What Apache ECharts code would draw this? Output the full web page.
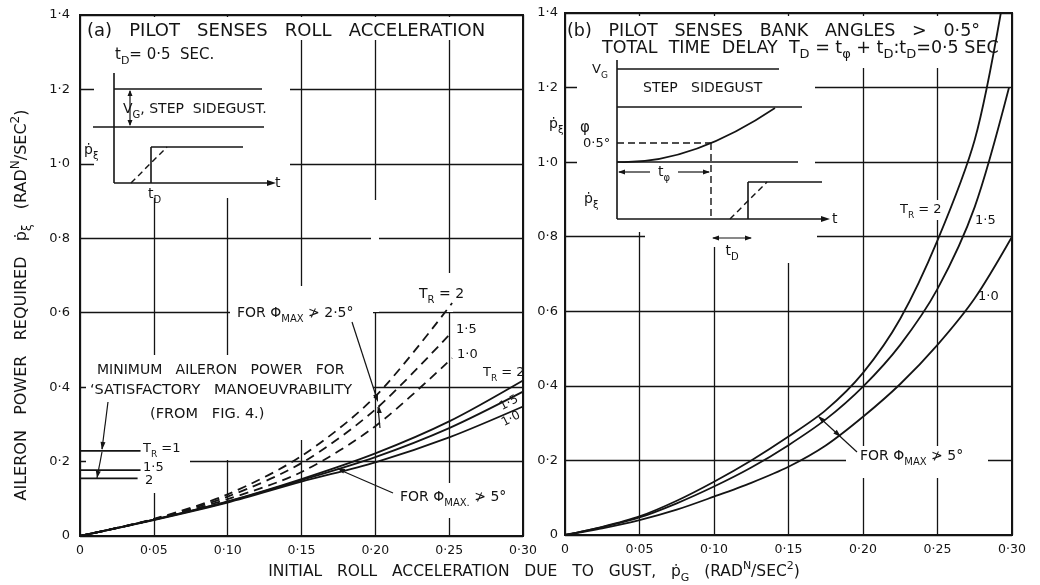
<!DOCTYPE html>
<html><head><meta charset="utf-8">
<script src="https://cdn.jsdelivr.net/npm/echarts@6/dist/echarts.min.js"></script>
<style>html,body{margin:0;padding:0;background:#fff}#c{width:1040px;height:585px}</style>
</head><body><div id="c"></div>
<script>
// ---- tick labels ----
const xTickLabels = ['0','0·05','0·10','0·15','0·20','0·25','0·30'];
const yTickLabels = ['0','0·2','0·4','0·6','0·8','1·0','1·2','1·4'];

// ---- (a) pilot senses roll acceleration ----
// solid: for phi_max not > 5 deg
const aSolidTR2  = [[0,0],[0.05,0.044],[0.10,0.093],[0.15,0.153],[0.20,0.222],[0.25,0.308],[0.30,0.418]];
const aSolidTR15 = [[0,0],[0.05,0.044],[0.10,0.092],[0.15,0.150],[0.20,0.212],[0.25,0.290],[0.30,0.388]];
const aSolidTR1  = [[0,0],[0.05,0.043],[0.10,0.090],[0.15,0.146],[0.20,0.198],[0.25,0.265],[0.30,0.348]];
// dashed: for phi_max not > 2.5 deg
const aDashTR2  = [[0,0],[0.05,0.046],[0.10,0.112],[0.15,0.215],[0.20,0.375],[0.252,0.626]];
const aDashTR15 = [[0,0],[0.05,0.045],[0.10,0.106],[0.15,0.196],[0.20,0.340],[0.252,0.549]];
const aDashTR1  = [[0,0],[0.05,0.044],[0.10,0.099],[0.15,0.172],[0.20,0.295],[0.252,0.478]];
// minimum aileron power for satisfactory manoeuvrability
const minTR1  = [[0,0.229],[0.041,0.229]];
const minTR15 = [[0,0.177],[0.041,0.177]];
const minTR2  = [[0,0.155],[0.039,0.155]];

// ---- (b) pilot senses bank angles > 0.5 deg ----
const bTR2  = [[0,0],[0.025,0.022],[0.05,0.050],[0.075,0.092],[0.10,0.143],[0.125,0.200],[0.15,0.264],[0.175,0.335],[0.20,0.435],[0.225,0.58],[0.25,0.79],[0.275,1.06],[0.2925,1.40]];
const bTR15 = [[0,0],[0.025,0.021],[0.05,0.047],[0.075,0.085],[0.10,0.130],[0.125,0.181],[0.15,0.241],[0.175,0.310],[0.20,0.398],[0.225,0.51],[0.25,0.66],[0.275,0.88],[0.298,1.20]];
const bTR1  = [[0,0],[0.025,0.018],[0.05,0.040],[0.075,0.068],[0.10,0.103],[0.125,0.140],[0.15,0.183],[0.175,0.240],[0.20,0.317],[0.225,0.405],[0.25,0.51],[0.275,0.635],[0.30,0.80]];

const INK = '#141414';
const FONT = 'DejaVu Sans';

function rich(fs){
  const L = fs + 8;
  return {
    n: {font: fs + 'px ' + FONT, fill: INK, lineHeight: L, verticalAlign: 'middle'},
    s: {font: Math.round(fs*0.72) + 'px ' + FONT, fill: INK, lineHeight: Math.round(fs*0.72)+1, verticalAlign: 'bottom'},
    u: {font: Math.round(fs*0.72) + 'px ' + FONT, fill: INK, lineHeight: Math.round(fs*0.72)+1, verticalAlign: 'top'}
  };
}
function T(x, y, text, fs, opt){
  opt = opt || {};
  return {type:'text', x:x, y:y, z:6, rotation: opt.rot || 0, silent:true,
    style:{text:text, rich:rich(fs), align: opt.align || 'left', verticalAlign:'middle'}};
}
function L(x1,y1,x2,y2,w,dash){
  return {type:'line', z:5, silent:true, shape:{x1:x1,y1:y1,x2:x2,y2:y2},
    style:{stroke:INK, lineWidth:w||1.6, lineDash: dash || null}};
}
function H(x1,y1,x2,y2,len,wid){
  len = len || 8; wid = wid || 3;
  const a = Math.atan2(y2-y1, x2-x1), c = Math.cos(a), s = Math.sin(a);
  const bx = x2 - len*c, by = y2 - len*s;
  return {type:'polygon', z:5, silent:true,
    shape:{points:[[x2,y2],[bx - wid*s, by + wid*c],[bx + wid*s, by - wid*c]]},
    style:{fill:INK}};
}
function W(x,y,w,h){
  return {type:'rect', z:1, silent:true, shape:{x:x,y:y,width:w,height:h}, style:{fill:'#fff'}};
}

const g = [
  // white areas where the drawing interrupts the grid
  W(84,17,420,23), W(94,40,196,158), W(230,286,143,154), W(86,355,144,105),
  W(86,455,72,38), W(158,455,32,13), W(371,200,8,112), W(445,273,8,39), W(396,483,118,35),
  W(567,16,434,52), W(577,60,238,172), W(645,232,110,15), W(755,232,62,31),
  W(846,446,142,32), W(896,200,52,20),

  // axis titles
  T(22, 305, '{n|AILERON   POWER   REQUIRED   ṗ}{s|ξ}{n|   (RAD}{u|N}{n|/SEC}{u|2}{n|)}', 16, {rot:Math.PI/2, align:'center'}),
  T(534, 572, '{n|INITIAL   ROLL   ACCELERATION   DUE   TO   GUST,   ṗ}{s|G}{n|   (RAD}{u|N}{n|/SEC}{u|2}{n|)}', 15.5, {align:'center'}),

  // ---- panel (a) texts ----
  T(87, 31, '{n|(a)   PILOT   SENSES   ROLL   ACCELERATION}', 18),
  T(115, 55, '{n|t}{s|D}{n|= 0·5  SEC.}', 15),
  T(123, 109, '{n|V}{s|G}{n|, STEP  SIDEGUST.}', 14),
  T(84, 150, '{n|ṗ}{s|ξ}', 14),
  T(275, 183, '{n|t}', 14),
  T(148, 194, '{n|t}{s|D}', 14),
  T(237, 313, '{n|FOR Φ}{s|MAX}{n| ≯ 2·5°}', 14),
  T(419, 294, '{n|T}{s|R}{n| = 2}', 14),
  T(456, 330, '{n|1·5}', 13),
  T(457, 355, '{n|1·0}', 13),
  T(483, 373, '{n|T}{s|R}{n| = 2}', 13),
  T(509, 403, '{n|1·5}', 12, {rot: 28*Math.PI/180, align:'center'}),
  T(511, 419, '{n|1·0}', 12, {rot: 28*Math.PI/180, align:'center'}),
  T(97, 370, '{n|MINIMUM   AILERON   POWER   FOR}', 14),
  T(90, 390, '{n|‘SATISFACTORY   MANOEUVRABILITY}', 14.5),
  T(150, 414, '{n|(FROM   FIG. 4.)}', 14.5),
  T(143, 449, '{n|T}{s|R}{n| =1}', 13),
  T(143, 468, '{n|1·5}', 13),
  T(145, 481, '{n|2}', 13),
  T(400, 497, '{n|FOR Φ}{s|MAX.}{n| ≯ 5°}', 14),

  // ---- panel (a) inset ----
  L(114,73,114,183), L(114,89,262,89), L(93,127,264,127),
  L(130,91,130,125,1.2), H(130,110,130,126,6,2.5), H(130,108,130,90,6,2.5),
  L(114,183,268,183), H(250,183,276,183,9,3),
  L(151,183,151,147), L(151,147,243,147),
  L(131,183,167,147,1.4,[6,4]),
  // panel (a) arrows
  L(352,322,377,399,1.2), H(352,322,378,402,8,2.5),
  L(378,407,380,428,1.2), H(380,428,379,406,7,2.5),
  L(108,402,102,449,1.2), H(108,402,102,450,8,2.5),
  L(102,452,97,478,1.2), H(102,452,97,478,7,2.5),
  L(393,493,340,470,1.2), H(393,493,337,468,8,2.5),

  // ---- panel (b) texts ----
  T(567, 31, '{n|(b)   PILOT   SENSES   BANK   ANGLES   >   0·5°}', 17.5),
  T(602, 48, '{n|TOTAL  TIME  DELAY  T}{s|D}{n| = t}{s|φ}{n| + t}{s|D}{n|:t}{s|D}{n|=0·5 SEC}', 17.5),
  T(592, 70, '{n|V}{s|G}', 13),
  T(643, 88, '{n|STEP   SIDEGUST}', 14),
  T(549, 124, '{n|ṗ}{s|ξ}', 14),
  T(580, 128, '{n|φ}', 15),
  T(583, 144, '{n|0·5°}', 13),
  T(664, 172, '{n|t}{s|φ}', 14, {align:'center'}),
  T(584, 199, '{n|ṗ}{s|ξ}', 14),
  T(832, 219, '{n|t}', 14),
  T(732, 251, '{n|t}{s|D}', 14, {align:'center'}),
  T(900, 210, '{n|T}{s|R}{n| = 2}', 13),
  T(975, 221, '{n|1·5}', 13),
  T(978, 297, '{n|1·0}', 13),
  T(860, 456, '{n|FOR Φ}{s|MAX}{n| ≯ 5°}', 14),

  // ---- panel (b) inset ----
  L(617,60,617,219), L(617,69,779,69), L(617,107,802,107), L(617,162,798,162),
  {type:'bezierCurve', z:5, silent:true, shape:{x1:617,y1:162,cpx1:690,cpy1:165,x2:775,y2:108}, style:{stroke:INK, lineWidth:1.6, fill:null}},
  L(617,143,711,143,1.4,[7,4]), L(711,143,711,219,1.4,[7,4]),
  L(619,172,650,172,1.2), H(640,172,618,172,7,2.5), L(678,172,709,172,1.2), H(690,172,710,172,7,2.5),
  L(748,219,748,182), L(748,182,822,182),
  L(730,219,767,182,1.4,[6,4]),
  L(617,219,822,219), H(800,219,830,219,9,3),
  L(713,238,751,238,1.2), H(730,238,712,238,7,2.5), H(735,238,752,238,7,2.5),
  // panel (b) arrow
  L(857,452,819,417,1.2), H(840,436,818,416,8,2.5), H(830,427,841,437,8,2.5)
];

function lineSeries(data, xi, dashed){
  return {type:'line', xAxisIndex:xi, yAxisIndex:xi, data:data, showSymbol:false, symbol:'none',
    smooth:0.3, silent:true, z:3, clip:true,
    lineStyle:{color:INK, width:1.8, type: dashed ? [9,6] : 'solid'}};
}
function flatSeries(data){
  return {type:'line', xAxisIndex:0, yAxisIndex:0, data:data, showSymbol:false, symbol:'none',
    silent:true, z:3, lineStyle:{color:INK, width:1.8}};
}

function xAxisCfg(gi){
  return {type:'value', gridIndex:gi, min:0, max:0.3, interval:0.05,
    axisLine:{show:false}, axisTick:{show:false},
    splitLine:{show:true, lineStyle:{color:INK, width:1.3}},
    axisLabel:{margin:8, fontFamily:FONT, fontSize:12.5, color:INK,
      formatter: v => xTickLabels[Math.round(v/0.05)]}};
}
function yAxisCfg(gi, m){
  return {type:'value', gridIndex:gi, min:0, max:1.4, interval:0.2,
    axisLine:{show:false}, axisTick:{show:false},
    splitLine:{show:true, lineStyle:{color:INK, width:1.3}},
    axisLabel:{margin:m, fontFamily:FONT, fontSize:13, color:INK,
      formatter: v => yTickLabels[Math.round(v/0.2)]}};
}

const chart = echarts.init(document.getElementById('c'), null, {renderer:'canvas'});
chart.setOption({
  animation:false,
  backgroundColor:'#fff',
  grid:[
    {left:80, top:15, width:443, height:521, show:true, borderColor:INK, borderWidth:2, containLabel:false},
    {left:565, top:13, width:447, height:522, show:true, borderColor:INK, borderWidth:2, containLabel:false}
  ],
  xAxis:[xAxisCfg(0), xAxisCfg(1)],
  yAxis:[yAxisCfg(0,10), yAxisCfg(1,7)],
  series:[
    lineSeries(aSolidTR2,0,false), lineSeries(aSolidTR15,0,false), lineSeries(aSolidTR1,0,false),
    lineSeries(aDashTR2,0,true), lineSeries(aDashTR15,0,true), lineSeries(aDashTR1,0,true),
    flatSeries(minTR1), flatSeries(minTR15), flatSeries(minTR2),
    lineSeries(bTR2,1,false), lineSeries(bTR15,1,false), lineSeries(bTR1,1,false)
  ],
  graphic: g
});
</script>
</body></html>
